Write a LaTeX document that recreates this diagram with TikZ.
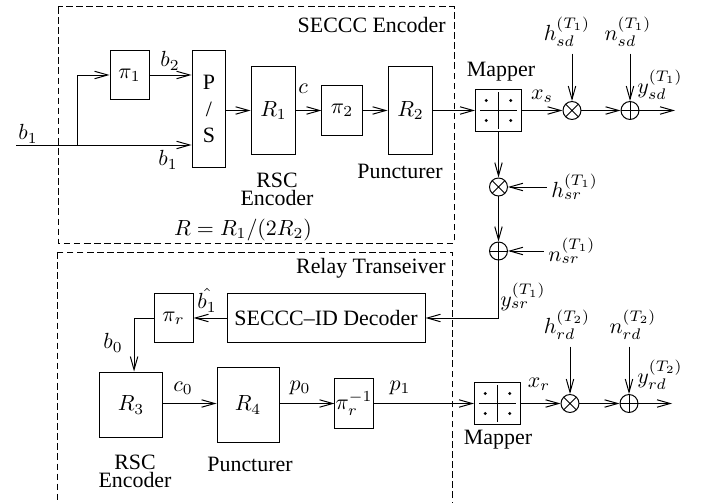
\documentclass[tikz,border=0pt]{standalone}
\usepackage{fontspec}
\setmainfont{Liberation Serif}
\usepackage{amsmath}
\usetikzlibrary{positioning,arrows.meta,calc}
\tikzset{
  blk/.style ={draw,line width=.45pt,inner sep=0pt,align=center},
  pib/.style ={blk,minimum width=17.8pt,minimum height=22.4pt},
  rb/.style  ={blk,minimum width=20.5pt,minimum height=40.6pt},
  mapb/.style={blk,minimum width=21pt,minimum height=19.6pt,
               path picture={
                 \draw[line width=.45pt]
                   ($(path picture bounding box.west)+(2pt,0)$)--($(path picture bounding box.east)+(-2pt,0)$)
                   ($(path picture bounding box.north)+(0,-1.4pt)$)--($(path picture bounding box.south)+(0,1.4pt)$);
                 \foreach \dx/\dy in {-5.6/4.6,5.6/4.6,-5.6/-4.6,5.6/-4.6}
                   \fill ($(path picture bounding box.center)+(\dx pt,\dy pt)$) circle (.75pt);}},
  mulc/.style={circle,draw,line width=.45pt,minimum size=8.2pt,inner sep=0pt,
               path picture={
                 \draw[line width=.45pt]
                   (path picture bounding box.north west)--(path picture bounding box.south east)
                   (path picture bounding box.north east)--(path picture bounding box.south west);}},
  addc/.style={circle,draw,line width=.45pt,minimum size=8.2pt,inner sep=0pt,
               path picture={
                 \draw[line width=.45pt]
                   (path picture bounding box.north)--(path picture bounding box.south)
                   (path picture bounding box.east)--(path picture bounding box.west);}},
  lbl/.style ={inner sep=0pt,align=center},
  two/.style ={lbl,font=\fontsize{10}{8.3}\selectfont},
  ttl/.style ={inner sep=0pt,anchor=east},
  ln/.style  ={line width=.45pt},
  ar/.style  ={ln,-{Straight Barb[length=6pt,width=3.4pt]}},
  grp/.style ={ln,dash pattern=on 3pt off 1.6pt},
}

\begin{document}
\begin{tikzpicture}[x=0.4566pt,y=-0.4566pt]
\useasboundingbox (0,0) rectangle (707,503);

% ---- SECCC encoder -------------------------------------------------------
\draw[grp] (58,7) rectangle (454,243);
\node[ttl] (tenc) at (446,25) {SECCC Encoder};

\coordinate (in) at (16,145);
\coordinate (br) at (77,145);
\node[pib] (pi1) at (129.5,75) {$\pi_1$};
\node[blk,minimum width=15.5pt,minimum height=53pt] (ps) at (209,109) {P\\/\\S};
\node[rb] (r1) at (273.5,110.5) {$R_1$};
\node[pib,minimum width=18.3pt] (pi2) at (342,110.5) {$\pi_2$};
\node[rb] (r2) at (410.5,110.5) {$R_2$};

\draw[ln](in)--(br);
\draw[ar](br)|-(pi1.west);
\draw[ar](br)--(br-|ps.west);
\draw[ar](pi1.east)--(pi1.east-|ps.west);
\draw[ar](ps.east|-r1.west)--(r1.west);
\draw[ar](r1)--(pi2); \draw[ar](pi2)--(r2);

\node[lbl] (lb1)  at (28,134)  {$b_1$};
\node[lbl] (lb2)  at (170,61)  {$b_2$};
\node[lbl] (lb1s) at (168,160) {$b_1$};
\node[lbl] (lc)   at (303,89)  {$c$};
\node[two] (trsc) at (277,189) {RSC\\Encoder};
\node[lbl] (tpun) at (400,171) {Puncturer};
\node[lbl] (rate) at (243,230) {$R=R_1/(2R_2)$};

% ---- source to destination and relay -------------------------------------
\node[mapb] (map1) at (498.5,110.5) {};
\node[lbl] (tmap1) at (501,72) {Mapper};
\draw[ar](r2)--(map1);

\node[mulc] (m1) at (572,110.5) {};
\node[addc] (a1) at (630,110.5) {};
\coordinate (o1) at (675,110.5);
\draw[ar](map1)--(m1); \draw[ar](m1)--(a1); \draw[ar](a1)--(o1);
\node[lbl] (lxs) at (542,96)  {$x_s$};
\node[lbl] (hsd) at (567,32)  {$h^{(T_1)}_{sd}$};
\node[lbl] (nsd) at (628,32)  {$n^{(T_1)}_{sd}$};
\node[lbl] (ysd) at (660,85)  {$y^{(T_1)}_{sd}$};
\draw[ar,shorten <=3pt](hsd.south-|m1)--(m1);
\draw[ar,shorten <=3pt](nsd.south-|a1)--(a1);

\node[mulc] (m2) at (498.5,187) {};
\node[addc] (a2) at (498.5,251) {};
\draw[ar](map1)--(m2); \draw[ar](m2)--(a2);
\node[lbl,anchor=west] (hsr) at (551,187) {$h^{(T_1)}_{sr}$};
\node[lbl,anchor=west] (nsr) at (548,251) {$n^{(T_1)}_{sr}$};
\draw[ar,shorten <=2pt](hsr.west|-m2)--(m2);
\draw[ar,shorten <=2pt](nsr.west|-a2)--(a2);
\node[lbl] (ysr) at (523,297) {$y^{(T_1)}_{sr}$};

% ---- relay transceiver ---------------------------------------------------
\draw[grp] (57,252) rectangle (452,515);
\node[ttl] (trel) at (446,268) {Relay Transeiver};

\node[blk,minimum width=90.4pt,minimum height=22.8pt] (dec) at (326,318) {SECCC--ID Decoder};
\node[pib] (pir) at (173.5,318) {$\pi_r$};
\node[blk,minimum width=29.2pt,minimum height=30.1pt] (r3) at (131,405) {$R_3$};
\node[blk,minimum width=28.3pt,minimum height=33.8pt] (r4) at (248,405) {$R_4$};
\node[pib,minimum width=17.4pt] (piri) at (354,403.5) {$\pi_r^{-1}$};
\draw[ar](a2)|-(dec.east);
\draw[ar](dec)--(pir);
\draw[ar](pir.west)-|([xshift=1.4pt]r3.north);
\draw[ar](r3.east|-piri)--(r4.west|-piri);
\draw[ar](r4.east|-piri)--(piri.west);

\node[lbl] (lbh) at (207,300) {$\hat{b_1}$};
\node[lbl] (lb0) at (113,343) {$b_0$};
\node[lbl] (lc0) at (183,388) {$c_0$};
\node[lbl] (lp0) at (300,388) {$p_0$};
\node[lbl] (lp1) at (400,388) {$p_1$};
\node[two] (trsc2) at (135,471) {RSC\\Encoder};
\node[lbl] (tpun2) at (250,464) {Puncturer};

% ---- relay to destination ------------------------------------------------
\node[mapb] (map2) at (497.5,403.5) {};
\node[lbl] (tmap2) at (498,440) {Mapper};
\draw[ar](piri)--(map2);
\node[mulc] (m3) at (570,403.5) {};
\node[addc] (a3) at (629,403.5) {};
\coordinate (o2) at (672,403.5);
\draw[ar](map2)--(m3); \draw[ar](m3)--(a3); \draw[ar](a3)--(o2);
\node[lbl] (lxr) at (539,384) {$x_r$};
\node[lbl] (hrd) at (567,325) {$h^{(T_2)}_{rd}$};
\node[lbl] (nrd) at (633,325) {$n^{(T_2)}_{rd}$};
\node[lbl] (yrd) at (660,375) {$y^{(T_2)}_{rd}$};
\draw[ar,shorten <=3pt](hrd.south-|m3)--(m3);
\draw[ar,shorten <=3pt](nrd.south-|a3)--(a3);
\end{tikzpicture}
\end{document}
